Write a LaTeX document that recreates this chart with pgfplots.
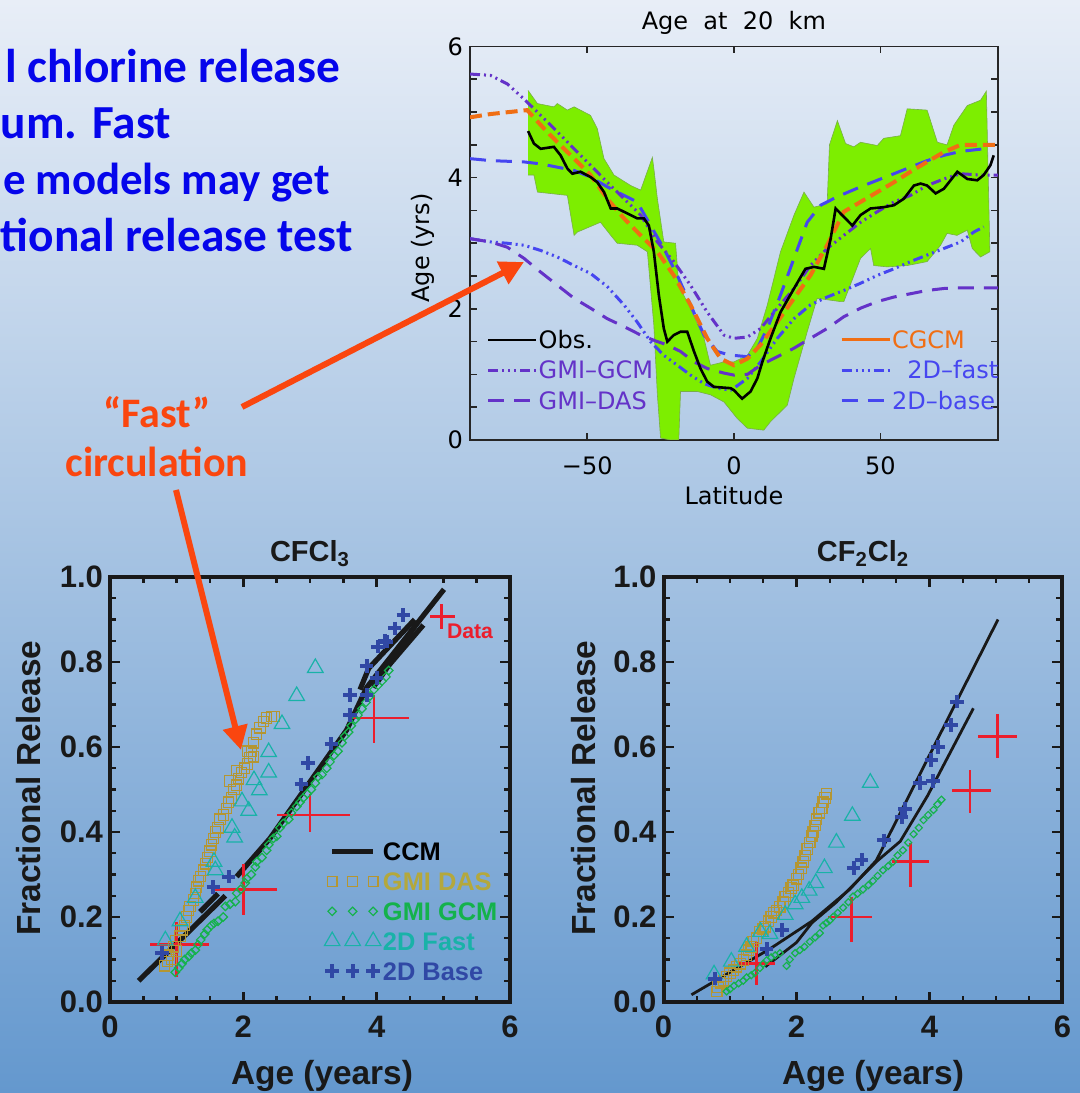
\documentclass[border=0pt]{standalone}
\usepackage{pgfplots}
\pgfplotsset{compat=1.18}
\usepackage{fontspec}
\setmainfont{Liberation Sans}
\newfontfamily\carlito{Carlito}
\newfontfamily\dejavu{DejaVu Sans}
\usetikzlibrary{arrows.meta}

\definecolor{slideblue}{RGB}{5,5,235}
\definecolor{arroworange}{RGB}{250,70,15}
\definecolor{bandgreen}{RGB}{125,238,0}
\definecolor{bandedge}{RGB}{120,175,70}
\definecolor{gmipurple}{RGB}{100,50,200}
\definecolor{twodblue}{RGB}{70,70,240}
\definecolor{cgcmorange}{RGB}{240,110,20}
\definecolor{datared}{RGB}{235,30,45}
\definecolor{dasgold}{RGB}{180,150,50}
\definecolor{dastext}{RGB}{180,168,60}
\definecolor{gcmgreen}{RGB}{20,178,75}
\definecolor{fastteal}{RGB}{25,178,168}
\definecolor{baseblue}{RGB}{48,72,165}
\definecolor{bgtop}{RGB}{232,238,247}
\definecolor{bgbot}{RGB}{100,152,206}

\tikzset{
  ddd/.style={dash pattern=on 5pt off 2pt on 1pt off 2pt on 1pt off 2pt on 1pt off 2pt},
  lng/.style={dash pattern=on 8pt off 5pt},
}

\pgfplotsset{
  bstyle/.style={
    scale only axis, width=200pt, height=212.5pt,
    xmin=0, xmax=6, ymin=0, ymax=1,
    xtick={0,2,4,6}, xticklabels={0,2,4,6},
    ytick={0,0.2,0.4,0.6,0.8,1}, yticklabels={0.0,0.2,0.4,0.6,0.8,1.0},
    minor x tick num=3, minor y tick num=3,
    tick align=inside, major tick length=5pt, minor tick length=3pt,
    axis line style={line width=2pt, black!90},
    every tick/.style={line width=1.2pt, black!90},
    tick label style={font=\fontsize{15.5}{16}\selectfont\bfseries, text=black!90},
    xticklabel style={yshift=-3.5pt},
    label style={font=\fontsize{16.7}{17}\selectfont\bfseries, text=black!90},
    title style={font=\fontsize{14.5}{15}\selectfont\bfseries, text=black!90, at={(axis description cs:0.5,1.027)}, anchor=center},
    xlabel={Age (years)}, ylabel={Fractional Release},
    legend image code/.code={\draw[##1, mark repeat=1] plot coordinates {(0pt,0pt) (10.25pt,0pt) (20.5pt,0pt)};},
  },
  dasmark/.style={only marks, mark=square, mark size=2.6pt, color=dasgold, mark options={line width=0.6pt, solid, fill=none}},
  gcmmark/.style={only marks, mark=square, mark size=#1, color=gcmgreen, mark options={rotate=45, line width=0.6pt, solid, fill=none}},
  fastmark/.style={only marks, mark=triangle, mark size=4.5pt, color=fastteal, mark options={line width=0.6pt, solid, fill=none}},
  basemark/.style={only marks, mark=+, mark size=3.4pt, color=baseblue, mark options={line width=2pt, solid}},
}

\begin{document}
\begin{tikzpicture}
\useasboundingbox (0,0) rectangle (540pt,546.5pt);
\shade[top color=bgtop, bottom color=bgbot] (0,0) rectangle (540pt,546.5pt);

% slide text (visible parts)
\begin{scope}[every node/.style={inner sep=0pt, anchor=base west, text=slideblue, font=\carlito\bfseries\fontsize{23.7}{28}\selectfont}]
\node at (2.3pt,505pt) {l chlorine release};
\node at (0.3pt,477pt) {um.};
\node at (46pt,477pt) {Fast};
\node[anchor=base east, font=\carlito\bfseries\fontsize{22.4}{26}\selectfont] at (165pt,449pt) {e models may get};
\node at (0.3pt,420.5pt) {tional release test};
\end{scope}
\begin{scope}[every node/.style={inner sep=0pt, anchor=base, text=arroworange, font=\carlito\bfseries\fontsize{21}{24}\selectfont}]
\node at (78.5pt,332.5pt) {“Fast”};
\node at (78.5pt,308pt) {circulation};
\end{scope}

% ---------------- top axis ----------------
\begin{axis}[
  at={(235pt,326.5pt)}, anchor=south west,
  scale only axis, width=263.9pt, height=196.75pt,
  xmin=-90, xmax=90, ymin=0, ymax=6,
  xtick={-50,0,50}, xticklabels={−50,0,50},
  ytick={0,2,4,6}, minor y tick num=3,
  tick align=inside, major tick length=3.5pt, minor tick length=3.5pt,
  axis line style={line width=0.8pt, black!85},
  every tick/.style={line width=0.8pt, black!85},
  /pgf/number format/assume math mode=true,
  tick label style={font=\dejavu\fontsize{12}{13}\selectfont},
  xticklabel style={yshift=-5pt},
  title={Age\ \ at\ \ 20\ \ km}, title style={font=\dejavu\fontsize{12}{13}\selectfont, at={(axis description cs:0.5,1.03)}, anchor=center},
  xlabel={Latitude}, xlabel style={font=\dejavu\fontsize{12}{13}\selectfont, at={(axis description cs:0.5,-0.14)}, anchor=center},
  ylabel={Age (yrs)}, ylabel style={font=\dejavu\fontsize{12}{13}\selectfont, at={(axis description cs:-0.09,0.488)}, anchor=center},
  legend columns=2,
  legend cell align=left,
  legend image code/.code={\draw[#1] (0pt,0pt) -- (24pt,0pt);},
  legend style={at={(axis description cs:0.0195,0.29)}, anchor=north west, draw=none, fill=none,
    font=\dejavu\fontsize{12}{13}\selectfont, nodes={inner sep=0.5pt, text height=8.6pt, text depth=0pt},
    row sep=5.6pt, /tikz/column 2/.style={column sep=93pt}},
]
\addlegendimage{black, line width=1.3pt}\addlegendentry{Obs.}
\addlegendimage{cgcmorange, line width=1.5pt}\addlegendentry{\textcolor{cgcmorange}{CGCM}}
\addlegendimage{gmipurple, line width=1.5pt, ddd}\addlegendentry{\textcolor{gmipurple}{GMI–GCM}}
\addlegendimage{twodblue, line width=1.5pt, ddd}\addlegendentry{\textcolor{twodblue}{\ \ 2D–fast}}
\addlegendimage{gmipurple, line width=1.5pt, lng}\addlegendentry{\textcolor{gmipurple}{GMI–DAS}}
\addlegendimage{twodblue, line width=1.5pt, lng}\addlegendentry{\textcolor{twodblue}{2D–base}}

\addplot[forget plot, fill=bandgreen, draw=bandedge, line width=0.3pt] coordinates {
(-70.2,5.33) (-67,5.13) (-61.4,5.08) (-60.2,5.13) (-56.8,5.03) (-54.5,5.08) (-48.9,4.95) (-46.6,4.75)
(-44.3,4.29) (-40.9,4.04) (-35.2,3.88) (-31.8,3.81) (-27.8,4.31) (-27.3,4.14) (-26.1,3.68) (-23.9,3.02)
(-19.9,3.0) (-18.8,2.36) (-14.8,2.0) (-10.2,1.55) (-8,1.14) (-3.4,1.19) (0,1.19) (4.6,1.29) (8,1.55)
(11.4,2.06) (15.9,2.87) (20.5,3.43) (23.9,3.78) (27.3,3.55) (31.8,3.6) (32.6,4.5) (35.3,4.87) (38.1,4.52)
(40.9,4.47) (43.2,4.54) (48.9,4.49) (51.1,4.6) (56.8,4.64) (59.1,5.05) (65.9,5.03) (69.4,4.54) (72.7,4.5)
(75,4.8) (79.6,5.1) (84.1,5.18) (86.1,5.32) (87.3,2.87)
(84.1,2.79) (81.3,2.92) (79.6,3.2) (76.1,3.12) (72.7,3.15) (70.5,2.97) (65.9,2.72) (59.1,2.66) (52.3,2.64)
(47.7,2.66) (46.6,2.92) (43.2,2.77) (37.5,2.11) (36.4,2.11) (28.4,2.16) (25,1.65) (20.5,0.94) (18.2,0.53)
(12.5,0.28) (10.2,0.15) (4.6,0.18) (1.1,0.33) (-3.4,0.58) (-8,0.69) (-12.5,0.74) (-18.2,0.74) (-18.8,0.0)
(-21.6,0.0) (-25,0.03) (-26.1,0.69) (-27.3,1.75) (-29.5,2.87) (-33,2.97) (-39.8,3.0) (-42,3.12) (-45.5,3.32)
(-53.4,3.17) (-54.5,3.12) (-56.8,3.73) (-67,3.78) (-68.2,4.04) (-70.2,4.04)
};
\addplot[forget plot, twodblue, line width=1.5pt, lng] coordinates {
(-90,4.29) (-83,4.26) (-71.6,4.24) (-65.9,4.21) (-60.2,4.16) (-54.5,4.11) (-48.9,4.01) (-43.2,3.86)
(-37.5,3.73) (-33,3.63) (-28.4,3.27) (-23.9,2.92) (-19.3,2.51) (-14.8,2.06) (-10.2,1.60) (-5.7,1.35)
(-1.1,1.29) (0,1.29) (4.6,1.27) (8,1.40) (11.4,1.70) (15.9,2.21) (20.5,2.77) (25,3.32) (29.6,3.58)
(35.3,3.71) (43.2,3.86) (48.9,3.96) (54.6,4.06) (60.2,4.16) (65.9,4.26) (71.6,4.34) (77.3,4.40) (85.2,4.44)
};
\addplot[forget plot, twodblue, line width=1.5pt, ddd] coordinates {
(-90,3.07) (-83,3.02) (-77.3,3.0) (-71.6,2.97) (-65.9,2.89) (-60.2,2.79) (-54.5,2.66) (-48.9,2.54)
(-43.2,2.34) (-37.5,2.06) (-33,1.80) (-28.4,1.50) (-23.9,1.29) (-19.3,1.14) (-14.8,0.99) (-10.2,0.86)
(-5.7,0.79) (-1.1,0.76) (0,0.79) (4.6,0.94) (9.1,1.19) (14.8,1.55) (20.5,1.85) (26.1,2.06) (31.8,2.18)
(37.5,2.28) (43.2,2.39) (48.9,2.51) (54.6,2.61) (60.2,2.72) (65.9,2.82) (71.6,2.92) (77.3,3.02)
(81.8,3.17) (85.2,3.25)
};
\addplot[forget plot, gmipurple, line width=1.5pt, lng] coordinates {
(-90,3.07) (-83,3.02) (-77.3,2.94) (-71.6,2.77) (-65.9,2.56) (-60.2,2.36) (-54.5,2.16) (-48.9,2.01)
(-43.2,1.85) (-37.5,1.73) (-31.8,1.60) (-26.1,1.50) (-22.7,1.45) (-18.2,1.35) (-13.6,1.19) (-9.1,1.09)
(-3.4,1.02) (0,0.99) (4.6,1.0) (9.1,1.14) (14.8,1.27) (20.5,1.40) (26.1,1.55) (31.8,1.70) (37.5,1.88)
(43.2,2.01) (48.9,2.11) (54.6,2.18) (60.2,2.23) (65.9,2.28) (71.6,2.31) (77.3,2.32) (90,2.32)
};
\addplot[forget plot, gmipurple, line width=1.5pt, ddd] coordinates {
(-90,5.58) (-83,5.56) (-77.3,5.43) (-71.6,5.20) (-65.9,4.95) (-60.2,4.70) (-54.5,4.44) (-48.9,4.19)
(-43.2,3.93) (-37.5,3.68) (-31.8,3.43) (-26.1,3.02) (-20.5,2.72) (-14.8,2.36) (-9.1,1.95) (-3.4,1.60)
(0,1.55) (4.6,1.57) (9.1,1.70) (14.8,2.01) (20.5,2.31) (26.1,2.66) (31.8,2.92) (37.5,3.12) (43.2,3.32)
(48.9,3.48) (54.6,3.63) (60.2,3.73) (65.9,3.88) (71.6,3.98) (77.3,4.06) (84.1,4.04) (90,4.04)
};
\addplot[forget plot, cgcmorange, line width=2pt, dash pattern=on 6pt off 3pt] coordinates {
(-90,4.92) (-83,4.97) (-70.5,5.03) (-64.8,4.75) (-60.2,4.54) (-54.5,4.29) (-48.9,4.04) (-43.2,3.68)
(-37.5,3.38) (-31.8,3.12) (-26.1,2.87) (-20.5,2.51) (-14.8,2.06) (-9.1,1.55) (-4.5,1.24) (0,1.14)
(4.6,1.24) (9.1,1.45) (14.8,1.80) (20.5,2.16) (26.1,2.51) (31.8,2.97) (37.5,3.48) (43.2,3.63) (48.9,3.78)
(54.6,3.93) (60.2,4.09) (65.9,4.24) (71.6,4.39) (77.3,4.50) (84.1,4.50) (90,4.50)
};
\addplot[forget plot, black, line width=1.3pt] coordinates {
(-70.2,4.71) (-68.2,4.52) (-65.9,4.44) (-61.4,4.47) (-59.1,4.34) (-56.8,4.14) (-55.1,4.06) (-52.3,4.09)
(-48.9,4.01) (-46.6,3.93) (-44.3,3.78) (-42,3.53) (-39.8,3.53) (-37.5,3.48) (-33,3.38) (-30.7,3.38)
(-29,3.27) (-27.3,2.87) (-25.6,2.21) (-23.9,1.70) (-22.7,1.50) (-20.5,1.60) (-18.2,1.65) (-15.9,1.65)
(-13.6,1.35) (-11.4,1.09) (-9.1,0.89) (-6.8,0.81) (-1.1,0.79) (0,0.76) (2.8,0.63) (5.7,0.74) (8,0.94)
(9.7,1.19) (12.5,1.55) (15.9,1.95) (20.5,2.31) (24.4,2.61) (27.3,2.64) (30.7,2.61) (33,3.07) (34.7,3.53)
(36.9,3.43) (40.4,3.27) (43.2,3.43) (46.6,3.53) (51.1,3.55) (54.6,3.58) (58,3.68) (61.4,3.88) (63.7,3.91)
(65.9,3.88) (68.8,3.76) (71.6,3.83) (76.2,4.09) (79.6,3.98) (83,3.96) (85.2,4.04) (87.5,4.19) (88.6,4.34)
};
\end{axis}

% ---------------- bottom left: CFCl3 ----------------
\begin{axis}[
  at={(55pt,45.5pt)}, anchor=south west, bstyle,
  title={CFCl\textsubscript{3}},
  xlabel style={at={(axis description cs:0.53,-0.175)}, anchor=center},
  ylabel style={at={(axis description cs:-0.2025,0.503)}, anchor=center},
  legend cell align=left,
  legend style={at={(axis description cs:0.52,0.39)}, anchor=north west, draw=none, fill=none,
    font=\fontsize{12.7}{13}\selectfont\bfseries, nodes={inner sep=1pt, text height=9.1pt, text depth=0pt},
    row sep=3.8pt},
]
\addlegendimage{black!90, line width=2.6pt}\addlegendentry{CCM}
\addlegendimage{only marks, mark=square, mark size=2.4pt, color=dasgold, mark options={line width=0.6pt, solid}}\addlegendentry{\textcolor{dastext}{GMI DAS}}
\addlegendimage{only marks, mark=square, mark size=1.5pt, color=gcmgreen, mark options={rotate=45, line width=0.6pt, solid}}\addlegendentry{\textcolor{gcmgreen}{GMI GCM}}
\addlegendimage{only marks, mark=triangle, mark size=4.5pt, color=fastteal, mark options={line width=0.6pt, solid}}\addlegendentry{\textcolor{fastteal}{2D Fast}}
\addlegendimage{only marks, mark=+, mark size=3.4pt, color=baseblue, mark options={line width=2pt, solid}}\addlegendentry{\textcolor{baseblue}{2D Base}}

\addplot[forget plot, dasmark] coordinates {
(0.82,0.085) (0.86,0.095) (0.88,0.11) (0.92,0.10) (0.95,0.13) (0.98,0.145) (1.0,0.12) (1.05,0.155)
(1.08,0.17) (1.12,0.18) (1.15,0.2) (1.18,0.215) (1.2,0.225) (1.25,0.24) (1.28,0.255) (1.3,0.27)
(1.33,0.285) (1.36,0.295) (1.4,0.31) (1.43,0.325) (1.46,0.34) (1.5,0.355) (1.52,0.37) (1.55,0.385)
(1.58,0.4) (1.62,0.41) (1.65,0.43) (1.7,0.44) (1.75,0.455) (1.78,0.47) (1.82,0.48) (1.86,0.5)
(1.9,0.51) (1.93,0.525) (1.97,0.54) (2.02,0.55) (2.06,0.56) (2.06,0.59) (2.1,0.575) (2.12,0.59)
(2.15,0.61) (2.2,0.63) (2.25,0.645) (2.3,0.66) (2.35,0.668) (2.42,0.672) (2.47,0.672) (1.8,0.52)
(1.9,0.545) (2.15,0.577)
};
\addplot[forget plot, fastmark] coordinates {
(0.83,0.145) (1.05,0.19) (1.28,0.245) (1.56,0.33) (1.58,0.31) (1.83,0.41) (1.87,0.387) (1.98,0.472)
(2.08,0.45) (2.16,0.522) (2.24,0.498) (2.38,0.588) (2.38,0.54) (2.58,0.654) (2.8,0.72) (3.08,0.786)
};
\addplot[forget plot, gcmmark=1.5pt] coordinates {
(0.98,0.07) (1.03,0.08) (1.08,0.09) (1.12,0.1) (1.18,0.107) (1.22,0.115) (1.28,0.122) (1.32,0.135)
(1.36,0.146) (1.42,0.16) (1.46,0.17) (1.52,0.18) (1.56,0.185) (1.62,0.19) (1.7,0.2) (1.73,0.225)
(1.8,0.23) (1.88,0.236) (1.9,0.256) (1.96,0.265) (2.03,0.28) (2.05,0.29) (2.12,0.3) (2.18,0.318)
(2.2,0.33) (2.28,0.34) (2.35,0.357) (2.38,0.37) (2.45,0.385) (2.5,0.39) (2.55,0.41) (2.6,0.42)
(2.68,0.43) (2.72,0.445) (2.8,0.46) (2.85,0.47) (2.9,0.48) (2.96,0.49) (3.02,0.5) (3.08,0.515)
(3.12,0.53) (3.18,0.535) (3.25,0.55) (3.3,0.565) (3.36,0.58) (3.42,0.59) (3.48,0.61) (3.52,0.625)
(3.58,0.635) (3.62,0.65) (3.68,0.665) (3.72,0.675) (3.78,0.69) (3.84,0.705) (3.9,0.72) (3.96,0.735)
(4.02,0.745) (4.08,0.755) (4.14,0.765) (4.18,0.78)
};
\addplot[forget plot, black!90, line width=2.6pt] coordinates {(0.43,0.05) (1.73,0.25)};
\addplot[forget plot, black!90, line width=2.6pt] coordinates {(1.35,0.212) (1.62,0.255)};
\addplot[forget plot, black!90, line width=2.6pt] coordinates {(1.9,0.295) (2.4,0.385) (3.55,0.64) (3.85,0.74) (5.01,0.971)};
\addplot[forget plot, black!90, line width=2.6pt] coordinates {(3.75,0.735) (3.88,0.785) (4.57,0.90)};
\addplot[forget plot, black!90, line width=2.6pt] coordinates {(3.95,0.74) (4.1,0.777) (4.7,0.887)};
\addplot[forget plot, black!90, line width=2.6pt] coordinates {(4.0,0.75) (4.62,0.895)};
\addplot[forget plot, basemark] coordinates {
(0.78,0.115) (1.55,0.27) (1.78,0.295) (2.87,0.512) (2.97,0.562) (3.32,0.608) (3.6,0.675) (3.6,0.722)
(3.85,0.722) (3.85,0.79) (4.0,0.762) (4.02,0.836) (4.12,0.85) (4.15,0.848) (4.27,0.879) (4.4,0.91)
};
\addplot[forget plot, draw=none, mark=none,
  error bars/.cd, x dir=both, x explicit, y dir=both, y explicit, error mark=none,
  error bar style={line width=1.4pt, draw=datared, solid}]
  table[x=x, y=y, x error minus=xm, x error plus=xp, y error minus=ym, y error plus=yp] {
x y xm xp ym yp
1.0 0.136 0.40 0.49 0.078 0.052
2.0 0.265 0.425 0.5 0.06 0.06
3.0 0.44 0.5 0.6 0.04 0.05
3.96 0.668 0.31 0.53 0.058 0.054
4.97 0.907 0.17 0.2 0.03 0.03
};
\node[anchor=west, inner sep=0pt, text=datared, font=\fontsize{10.6}{11}\selectfont\bfseries] at (axis cs:5.05,0.873) {Data};
\end{axis}

% ---------------- bottom right: CF2Cl2 ----------------
\begin{axis}[
  at={(331.75pt,45.5pt)}, anchor=south west, bstyle, width=199.5pt,
  title={CF\textsubscript{2}Cl\textsubscript{2}},
  xlabel style={at={(axis description cs:0.525,-0.175)}, anchor=center},
  ylabel style={at={(axis description cs:-0.2,0.503)}, anchor=center},
]
\addplot[forget plot, dasmark] coordinates {
(0.80,0.025) (0.82,0.035) (0.86,0.045) (0.9,0.05) (0.95,0.06) (1.0,0.068) (1.05,0.075) (1.1,0.083)
(1.15,0.09) (1.2,0.099) (1.25,0.11) (1.28,0.122) (1.32,0.13) (1.35,0.142) (1.4,0.15) (1.45,0.166)
(1.5,0.172) (1.53,0.177) (1.58,0.19) (1.62,0.2) (1.66,0.21) (1.7,0.215) (1.75,0.224) (1.8,0.235)
(1.83,0.248) (1.88,0.258) (1.92,0.268) (1.95,0.275) (2.0,0.29) (2.03,0.3) (2.07,0.315) (2.1,0.33)
(2.13,0.345) (2.16,0.36) (2.2,0.375) (2.23,0.39) (2.25,0.4) (2.28,0.415) (2.3,0.43) (2.34,0.445)
(2.38,0.455) (2.4,0.47) (2.43,0.48) (2.45,0.49)
};
\addplot[forget plot, fastmark] coordinates {
(0.76,0.065) (1.02,0.095) (1.25,0.13) (1.46,0.165) (1.6,0.16) (1.83,0.205) (1.98,0.23) (2.08,0.245)
(2.19,0.262) (2.29,0.28) (2.42,0.315) (2.6,0.375) (2.84,0.438) (3.11,0.516)
};
\addplot[forget plot, gcmmark=1.25pt] coordinates {
(0.95,0.025) (1.0,0.03) (1.06,0.038) (1.13,0.044) (1.2,0.05) (1.25,0.058) (1.32,0.063) (1.37,0.068)
(1.45,0.08) (1.5,0.09) (1.55,0.098) (1.62,0.105) (1.68,0.11) (1.75,0.115) (1.85,0.085) (1.9,0.1)
(1.98,0.115) (2.05,0.122) (2.12,0.13) (2.2,0.142) (2.28,0.152) (2.35,0.162) (2.4,0.18) (2.45,0.186)
(2.5,0.192) (2.55,0.2) (2.62,0.21) (2.7,0.222) (2.78,0.235) (2.85,0.248) (2.92,0.255) (3.0,0.265)
(3.08,0.275) (3.15,0.285) (3.22,0.297) (3.3,0.31) (3.38,0.32) (3.45,0.33) (3.52,0.345) (3.6,0.357)
(3.68,0.375) (3.76,0.395) (3.84,0.41) (3.91,0.428) (3.98,0.44) (4.06,0.452) (4.12,0.465) (4.18,0.476)
};
\addplot[forget plot, black!90, line width=1.4pt] coordinates {(0.42,0.017) (1.0,0.07) (1.6,0.125) (2.23,0.19) (2.8,0.265) (3.2,0.333) (5.03,0.9)};
\addplot[forget plot, black!90, line width=1.4pt] coordinates {(1.53,0.083) (2.0,0.14) (2.23,0.186) (2.6,0.235) (3.2,0.33) (3.56,0.378) (3.97,0.485) (4.66,0.691)};
\addplot[forget plot, basemark] coordinates {
(0.77,0.055) (1.55,0.125) (1.78,0.17) (2.86,0.315) (2.98,0.335) (3.32,0.38) (3.58,0.435) (3.63,0.455)
(3.86,0.515) (4.05,0.52) (4.03,0.57) (4.13,0.60) (4.32,0.652) (4.41,0.707)
};
\addplot[forget plot, draw=none, mark=none,
  error bars/.cd, x dir=both, x explicit, y dir=both, y explicit, error mark=none,
  error bar style={line width=1.4pt, draw=datared, solid}]
  table[x=x, y=y, x error minus=xm, x error plus=xp, y error minus=ym, y error plus=yp] {
x y xm xp ym yp
1.40 0.091 0.28 0.28 0.051 0.051
2.83 0.2 0.35 0.30 0.059 0.047
3.71 0.33 0.28 0.28 0.059 0.043
4.61 0.497 0.275 0.31 0.053 0.05
5.02 0.624 0.286 0.30 0.051 0.053
};
\end{axis}

% arrows
\draw[arroworange, line width=3pt, -{Triangle[length=12pt, width=12pt]}] (121pt,343pt) -- (262pt,415.5pt);
\draw[arroworange, line width=3pt, -{Triangle[length=12pt, width=12pt]}] (88pt,301.5pt) -- (120.5pt,171.5pt);
\end{tikzpicture}
\end{document}
